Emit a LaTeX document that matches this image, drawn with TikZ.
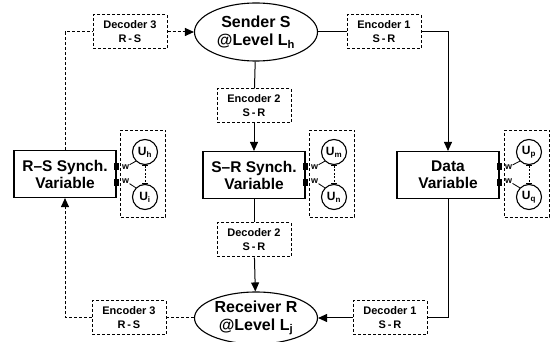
\documentclass[tikz,border=0pt]{standalone}
\usepackage{fontspec}
\setmainfont{Liberation Sans}
\usetikzlibrary{arrows.meta,positioning,shapes.geometric}

\tikzset{
	varbox/.style={draw, line width=1.1pt, minimum width=102pt, minimum height=47pt, inner sep=1pt, align=center, font=\bfseries\fontsize{15.5}{17}\selectfont},
	codebox/.style={draw, dashed, dash pattern=on 3pt off 2pt, line width=1pt, minimum width=74pt, minimum height=34pt, inner sep=1pt, align=center, font=\bfseries\fontsize{11}{14}\selectfont},
	party/.style={ellipse, draw, line width=1.1pt, minimum width=123pt, minimum height=58pt, inner sep=0pt, align=center, font=\bfseries\fontsize{16}{18}\selectfont},
	user/.style={circle, draw, line width=1.1pt, minimum size=25pt, inner sep=0pt, font=\bfseries\fontsize{12}{12}\selectfont},
	grp/.style={draw, dashed, dash pattern=on 3pt off 2pt, line width=1pt, minimum width=45pt, minimum height=87pt},
	wsq/.style={fill, minimum width=5pt, minimum height=7pt, inner sep=0pt},
	wlbl/.style={inner sep=0pt, font=\bfseries\fontsize{9}{9}\selectfont},
	flow/.style={-{Triangle[length=9pt,width=8pt]}},
	dashln/.style={dashed, dash pattern=on 3pt off 2pt},
	ubar/.style={dashed, dash pattern=on 2pt off 1.5pt, {Bar[width=6pt]}-{Bar[width=6pt]}},
}

\begin{document}
\begin{tikzpicture}[x=1pt,y=-1pt,line width=1pt]
	\useasboundingbox (0,0) rectangle (550,342);
	% parties
	\node[party] (snd) at (256,32) {Sender S\\@Level L\textsubscript{h}};
	\node[party, minimum height=52pt] (rcv) at (256,318) {Receiver R\\@Level L\textsubscript{j}};
	% coders
	\node[codebox] (dec3) at (130,32) {Decoder 3\\R\,-\,S};
	\node[codebox] (enc1) at (384,32) {Encoder 1\\S\,-\,R};
	\node[codebox] (enc2) at (254,106) {Encoder 2\\S\,-\,R};
	\node[codebox] (dec2) at (254,240) {Decoder 2\\S\,-\,R};
	\node[codebox] (enc3) at (129,318) {Encoder 3\\R\,-\,S};
	\node[codebox] (dec1) at (390,318) {Decoder 1\\S\,-\,R};
	% variables
	\node[varbox] (rsv) at (65,174) {R--S Synch.\\Variable};
	\node[varbox] (srv) at (254,175) {S--R Synch.\\Variable};
	\node[varbox] (dat) at (448,175) {Data\\Variable};
	% users next to each variable
	\foreach \v/\gx/\ua/\ub in {rsv/143/h/i, srv/332/m/n, dat/527/p/q} {
		\node[grp] (g\v) at (\gx,174) {};
		\node[user] (\v a) at (\gx+2,152) {U\textsubscript{\ua}};
		\node[user] (\v b) at (\gx+2,197) {U\textsubscript{\ub}};
		\node[wsq] (\v sa) at (\v.east |- 0,167) {};
		\node[wsq] (\v sb) at (\v.east |- 0,183) {};
		\node[wlbl, right=2pt of \v sa] (\v wa) {w};
		\node[wlbl, right=2pt of \v sb, yshift=2pt] (\v wb) {w};
		\draw[line width=0.8pt] (\v wa) -- (\v a.south west);
		\draw[line width=0.8pt] (\v wb) -- (\v b.north west);
		\draw[ubar] (\v a.south) -- (\v b.north);
	}
	% flows
	\draw (snd) -- (enc1);
	\draw[flow] (enc1.east) -| (dat.north);
	\draw (dat.south) |- (dec1.east);
	\draw[flow] (dec1) -- (rcv);
	\draw (snd) -- (enc2);
	\draw[flow] (enc2) -- (srv);
	\draw (srv) -- (dec2);
	\draw[flow] (dec2) -- (rcv);
	\draw[dashln] (rcv) -- (enc3);
	\draw[dashln,flow] (enc3.west) -| (rsv.south);
	\draw[dashln] (rsv.north) |- (dec3.west);
	\draw[dashln,flow] (dec3) -- (snd);
\end{tikzpicture}
\end{document}
